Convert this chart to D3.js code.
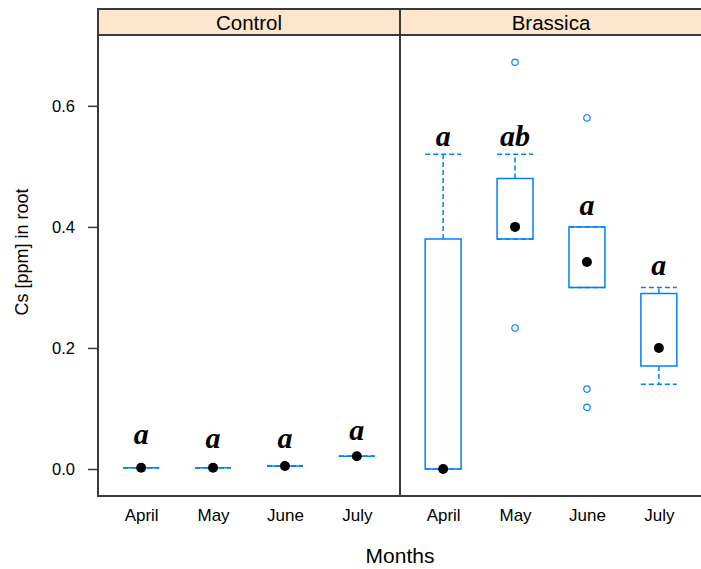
<!DOCTYPE html>
<html>
<head>
<meta charset="utf-8">
<script src="https://cdn.jsdelivr.net/npm/d3@7"></script>
<style>
  html, body { margin: 0; padding: 0; background: #fff; }
  svg { display: block; }
</style>
</head>
<body>
<svg id="chart" width="701" height="569"></svg>
<script>
// ---- data ----
const months = ["April", "May", "June", "July"];
const groups = ["Control", "Brassica"];
const yTicks = [0.0, 0.2, 0.4, 0.6];

// Control
const controlLowWhisker = [0.002, 0.002, 0.005, 0.021];
const controlQ1         = [0.002, 0.002, 0.005, 0.021];
const controlMedian     = [0.002, 0.002, 0.005, 0.021];
const controlQ3         = [0.002, 0.002, 0.005, 0.021];
const controlUpWhisker  = [0.002, 0.002, 0.005, 0.021];
const controlOutliers   = [[], [], [], []];
const controlLetters    = ["a", "a", "a", "a"];
const controlLetterY    = [0.041, 0.034, 0.034, 0.048];

// Brassica
const brassicaLowWhisker = [0.00, 0.38, 0.30, 0.14];
const brassicaQ1         = [0.00, 0.38, 0.30, 0.17];
const brassicaMedian     = [0.00, 0.40, 0.342, 0.20];
const brassicaQ3         = [0.38, 0.48, 0.40, 0.29];
const brassicaUpWhisker  = [0.52, 0.52, 0.40, 0.30];
const brassicaOutliers   = [[], [0.672, 0.233], [0.58, 0.132, 0.102], []];
const brassicaLetters    = ["a", "ab", "a", "a"];
const brassicaLetterY    = [0.534, 0.534, 0.42, 0.321];

const panelData = [
  { name: groups[0], lw: controlLowWhisker, q1: controlQ1, med: controlMedian, q3: controlQ3, uw: controlUpWhisker, out: controlOutliers, let: controlLetters, ly: controlLetterY },
  { name: groups[1], lw: brassicaLowWhisker, q1: brassicaQ1, med: brassicaMedian, q3: brassicaQ3, uw: brassicaUpWhisker, out: brassicaOutliers, let: brassicaLetters, ly: brassicaLetterY }
];

// ---- layout ----
const svg = d3.select("#chart");
const stripTop = 9, panelTop = 35, panelBottom = 496;
const panelLeft = 98, panelW = 302;
const boxColor = "#0080ff";
const frameColor = "#3a3a3a";
const sans = "'Liberation Sans', Arial, sans-serif";
const serif = "'Liberation Serif', 'Times New Roman', serif";

const y = d3.scaleLinear().domain([-0.0446, 0.717]).range([panelBottom, panelTop]);

panelData.forEach((p, i) => {
  const x0 = panelLeft + i * panelW, x1 = x0 + panelW;
  const x = d3.scalePoint().domain(months).range([x0, x1]).padding(0.6);
  const bw = x.step() / 2;
  const g = svg.append("g");

  // strip
  g.append("rect").attr("x", x0).attr("y", stripTop).attr("width", panelW).attr("height", panelTop - stripTop)
    .attr("fill", "#ffe5cc").attr("stroke", frameColor).attr("stroke-width", 2);
  g.append("text").attr("x", (x0 + x1) / 2).attr("y", 30).attr("text-anchor", "middle")
    .attr("font-family", sans).attr("font-size", 20.5).attr("fill", "#000").text(p.name);

  // panel frame
  g.append("rect").attr("x", x0).attr("y", panelTop).attr("width", panelW).attr("height", panelBottom - panelTop)
    .attr("fill", "none").attr("stroke", frameColor).attr("stroke-width", 2);

  months.forEach((m, j) => {
    const cx = x(m);
    // whiskers (dashed)
    const dash = "5,3";
    [[p.q3[j], p.uw[j]], [p.q1[j], p.lw[j]]].forEach(([a, b]) => {
      g.append("line").attr("x1", cx).attr("x2", cx).attr("y1", y(a)).attr("y2", y(b))
        .attr("stroke", boxColor).attr("stroke-width", 1.5).attr("stroke-dasharray", dash);
      g.append("line").attr("x1", cx - bw / 2).attr("x2", cx + bw / 2).attr("y1", y(b)).attr("y2", y(b))
        .attr("stroke", boxColor).attr("stroke-width", 1.5).attr("stroke-dasharray", dash);
    });
    // box (path so zero-height boxes still draw)
    const bx0 = cx - bw / 2, bx1 = cx + bw / 2, by0 = y(p.q3[j]), by1 = y(p.q1[j]);
    g.append("path").attr("d", `M${bx0},${by0}H${bx1}V${by1}H${bx0}Z`)
      .attr("fill", "none").attr("stroke", boxColor).attr("stroke-width", 1.5);
    // outliers
    p.out[j].forEach(v => {
      g.append("circle").attr("cx", cx).attr("cy", y(v)).attr("r", 3.2)
        .attr("fill", "none").attr("stroke", boxColor).attr("stroke-width", 1.2);
    });
    // median dot
    g.append("circle").attr("cx", cx).attr("cy", y(p.med[j])).attr("r", 5).attr("fill", "#000");
    // letter
    g.append("text").attr("x", cx).attr("y", y(p.ly[j])).attr("text-anchor", "middle")
      .attr("font-family", serif).attr("font-style", "italic").attr("font-weight", "bold")
      .attr("font-size", 30).attr("fill", "#000").text(p.let[j]);
  });

  // x axis labels
  const xa = g.append("g").attr("transform", `translate(0,${panelBottom})`)
    .call(d3.axisBottom(x).tickSize(0).tickPadding(13));
  xa.select(".domain").remove();
  xa.selectAll("text").attr("font-family", sans).attr("font-size", 17).attr("fill", "#000");
});

// y axis
const ya = svg.append("g").attr("transform", `translate(${panelLeft},0)`)
  .call(d3.axisLeft(y).tickValues(yTicks).tickFormat(d3.format(".1f")).tickSize(10).tickPadding(13));
ya.select(".domain").remove();
ya.selectAll(".tick line").attr("stroke", frameColor).attr("stroke-width", 1.5);
ya.selectAll("text").attr("font-family", sans).attr("font-size", 16.5).attr("fill", "#000");

// axis titles
svg.append("text").attr("transform", "translate(28,252) rotate(-90)").attr("text-anchor", "middle")
  .attr("font-family", sans).attr("font-size", 18).attr("fill", "#000").text("Cs [ppm] in root");
svg.append("text").attr("x", 400).attr("y", 563).attr("text-anchor", "middle")
  .attr("font-family", sans).attr("font-size", 21).attr("fill", "#000").text("Months");
</script>
</body>
</html>
